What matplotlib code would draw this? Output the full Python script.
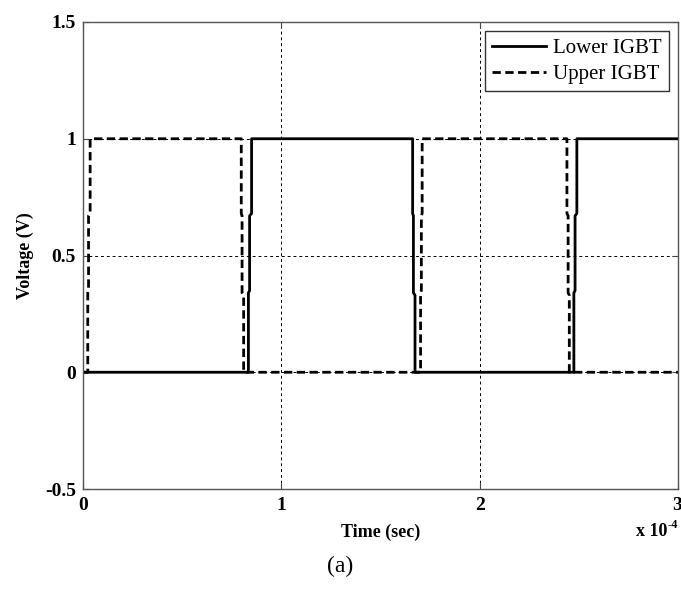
import matplotlib
matplotlib.use("Agg")
import matplotlib.pyplot as plt
import matplotlib.transforms as mtransforms

# ---- data (time in units of 1e-4 s) ----
time_scale_base = "x 10"
time_scale_exp = "-4"
x_ticks = [0, 1, 2, 3]
x_tick_labels = ["0", "1", "2", "3"]
y_ticks = [-0.5, 0, 0.5, 1, 1.5]
y_tick_labels = ["-0.5", "0", "0.5", "1", "1.5"]

# Lower IGBT gate signal: (time, voltage) vertices
lower_t = [0.0, 0.834, 0.834, 0.840, 0.840, 0.850, 0.850, 1.662, 1.662, 1.666, 1.666, 1.674, 1.674,
           2.475, 2.475, 2.481, 2.481, 2.490, 2.490, 3.0]
lower_v = [0.0, 0.0,   0.34,  0.35,  0.67,  0.68,  1.0,   1.0,   0.68,  0.67,  0.34,  0.33,  0.0,
           0.0,   0.34,  0.35,  0.67,  0.68,  1.0,   1.0]

# Upper IGBT gate signal
upper_t = [0.0, 0.024, 0.024, 0.028, 0.028, 0.036, 0.036, 0.798, 0.798, 0.802, 0.802, 0.810, 0.810,
           1.702, 1.702, 1.706, 1.706, 1.710, 1.710, 2.440, 2.440, 2.446, 2.446, 2.452, 2.452, 3.0]
upper_v = [0.0, 0.0,   0.34,  0.35,  0.67,  0.68,  1.0,   1.0,   0.68,  0.67,  0.34,  0.33,  0.0,
           0.0,   0.34,  0.35,  0.67,  0.68,  1.0,   1.0,   0.68,  0.67,  0.34,  0.33,  0.0,  0.0]

series_labels = ["Lower IGBT", "Upper IGBT"]

fig = plt.figure(figsize=(6.81, 5.90), dpi=100)
ax = fig.add_axes([83/681, 1-489/590, (678-83)/681, (489-22)/590])

ax.plot(lower_t, lower_v, color="black", lw=2.0, label=series_labels[0])
ax.plot(upper_t, upper_v, color="black", lw=2.0, dashes=(3, 1.6), label=series_labels[1])

ax.set_xlim(0, 3)
ax.set_ylim(-0.5, 1.5)
ax.set_xticks(x_ticks)
ax.set_xticklabels(x_tick_labels)
ax.set_yticks(y_ticks)
ax.set_yticklabels(y_tick_labels)

for lab in ax.get_xticklabels() + ax.get_yticklabels():
    lab.set_fontfamily("Liberation Serif")
    lab.set_fontweight("bold")
    lab.set_fontsize(14)
ax.tick_params(direction="in", length=4, width=0.8, top=True, right=True, color="#444444")
ax.tick_params(axis="x", pad=6)
ax.tick_params(axis="y", pad=5)
# last x tick label sits flush with the right edge
last = ax.get_xticklabels()[-1]
last.set_horizontalalignment("right")
last.set_transform(last.get_transform() + mtransforms.ScaledTranslation(4/100, 0, fig.dpi_scale_trans))

ax.grid(True, color="black", linestyle=(0, (3, 3)), linewidth=0.7)
for s in ax.spines.values():
    s.set_color("#555555")
    s.set_linewidth(1.0)

ax.set_xlabel("Time (sec)", fontfamily="Liberation Serif", fontweight="bold", fontsize=13, labelpad=7)
ax.set_ylabel("Voltage (V)", fontfamily="Liberation Serif", fontweight="bold", fontsize=13, labelpad=8)

fig.text(667/681, 1-532/590, time_scale_base, ha="right", va="center",
         fontfamily="Liberation Serif", fontweight="bold", fontsize=13)
fig.text(668/681, 1-525/590, time_scale_exp, ha="left", va="center",
         fontfamily="Liberation Serif", fontweight="bold", fontsize=9)
fig.text(340/681, 1-566/590, "(a)", ha="center", va="center",
         fontfamily="Liberation Serif", fontsize=17)

leg = ax.legend(loc="upper right", prop=dict(family="Liberation Serif", size=15),
                frameon=True, fancybox=False, framealpha=1, edgecolor="#333333",
                handlelength=2.6, labelspacing=0.3, borderpad=0.35, handletextpad=0.3,
                borderaxespad=0.45)
leg.get_frame().set_linewidth(1.0)

fig.savefig("out.png", dpi=100)
